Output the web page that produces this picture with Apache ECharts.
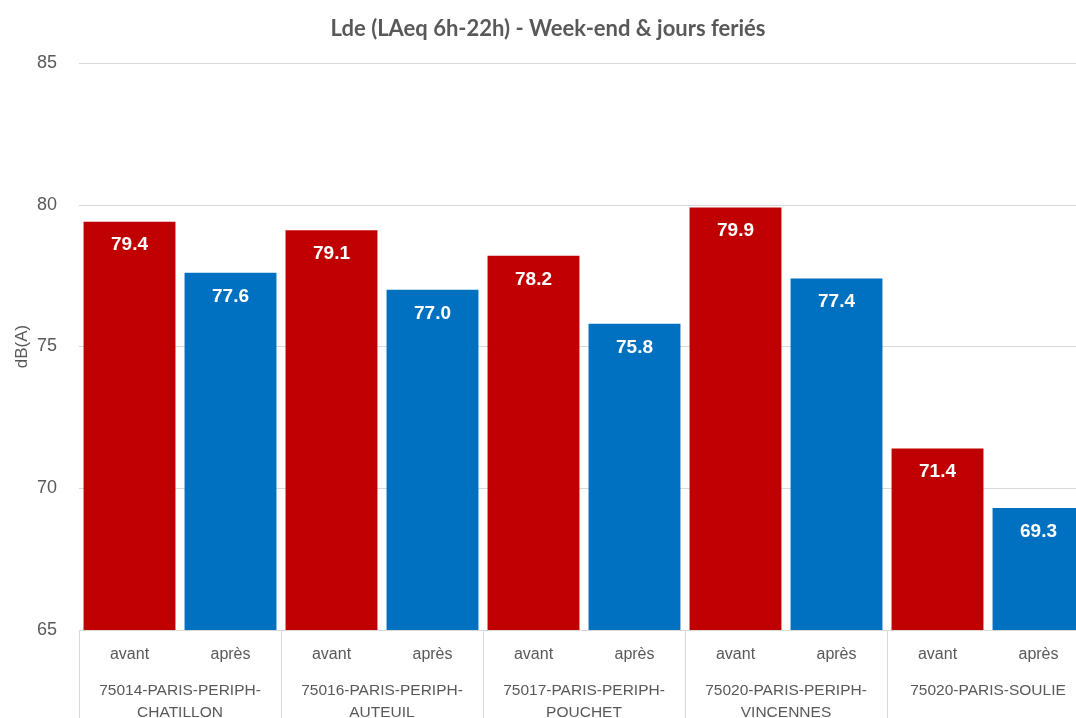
<!DOCTYPE html>
<html lang="fr" style="height: 100%">
   <head>
      <meta charset="utf-8">
   </head>
   <body style="height: 100%; margin: 0">
      <div id="container" style="width: 1076px; height: 718px"></div>
      <script type="text/javascript" src="https://cdn.jsdelivr.net/npm/echarts@6/dist/echarts.min.js"></script>
      <script type="text/javascript">
var periods = ['avant', 'après', 'avant', 'après', 'avant', 'après', 'avant', 'après', 'avant', 'après'];
var stations = [
  '75014-PARIS-PERIPH-\nCHATILLON',
  '75016-PARIS-PERIPH-\nAUTEUIL',
  '75017-PARIS-PERIPH-\nPOUCHET',
  '75020-PARIS-PERIPH-\nVINCENNES',
  '75020-PARIS-SOULIE'
];
var values = [79.4, 77.6, 79.1, 77.0, 78.2, 75.8, 79.9, 77.4, 71.4, 69.3];
var barColors = ['#C00000', '#0070C0'];

var dom = document.getElementById('container');
var myChart = echarts.init(dom, null, { renderer: 'canvas' });

var gray = '#595959';
var lineGray = '#d9d9d9';

var option = {
  animation: false,
  title: {
    text: 'Lde (LAeq 6h-22h) - Week-end & jours feriés',
    left: 543,
    textAlign: 'center',
    top: 13,
    textStyle: {
      color: gray,
      fontFamily: 'Lato',
      fontWeight: 'bold',
      fontSize: 22
    }
  },
  grid: {
    left: 79,
    top: 63,
    width: 1010,
    height: 567,
    outerBoundsMode: 'none',
    containLabel: false
  },
  xAxis: [{
      type: 'category',
      data: periods,
      axisLine: { show: true, lineStyle: { color: lineGray } },
      axisTick: { show: false },
      axisLabel: {
        color: gray,
        fontFamily: 'Liberation Sans',
        fontSize: 16,
        margin: 17,
        interval: 0
      }
    },
    {
      type: 'category',
      data: stations,
      position: 'bottom',
      axisLine: { show: false },
      axisTick: {
        show: true,
        interval: 0,
        length: 95,
        lineStyle: { color: lineGray }
      },
      axisLabel: {
        color: gray,
        fontFamily: 'Liberation Sans',
        fontSize: 15.5,
        lineHeight: 22,
        margin: 50,
        interval: 0,
        verticalAlign: 'top'
      }
    }
  ],
  yAxis: {
    type: 'value',
    min: 65,
    max: 85,
    interval: 5,
    name: 'dB(A)',
    nameLocation: 'middle',
    nameGap: 57,
    nameRotate: 90,
    nameMoveOverlap: false,
    nameTextStyle: {
      color: gray,
      fontFamily: 'Liberation Sans',
      fontSize: 17,
      verticalAlign: 'middle'
    },
    axisLine: { show: false },
    axisTick: { show: false },
    axisLabel: {
      color: gray,
      fontFamily: 'Liberation Sans',
      fontSize: 18,
      margin: 22
    },
    splitLine: { lineStyle: { color: lineGray } }
  },
  series: [{
    type: 'bar',
    xAxisIndex: 0,
    barWidth: '91%',
    data: values.map(function (v, i) {
      return { value: v, itemStyle: { color: barColors[i % 2] } };
    }),
    label: {
      show: true,
      position: 'insideTop',
      distance: 14,
      color: '#fff',
      fontFamily: 'Liberation Sans',
      fontWeight: 'bold',
      fontSize: 19,
      formatter: function (p) { return p.value.toFixed(1); }
    }
  }]
};
myChart.setOption(option);
window.addEventListener('resize', myChart.resize);
      </script>
   </body>
</html>
